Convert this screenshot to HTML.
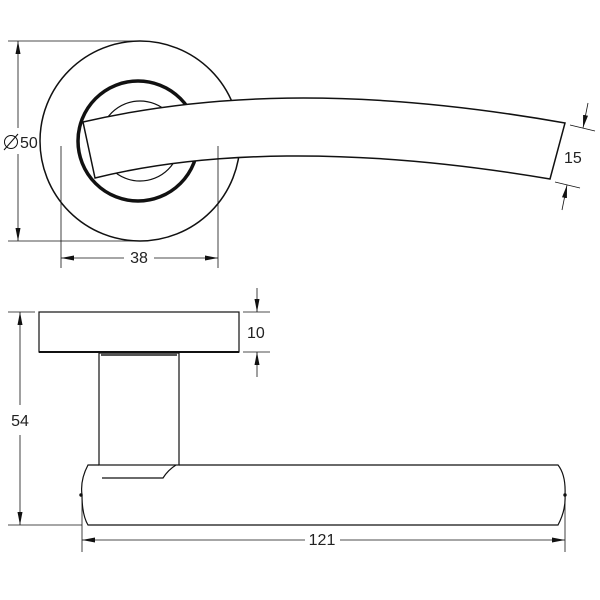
<!DOCTYPE html>
<html><head><style>html,body{margin:0;padding:0;background:#fff}svg{display:block}text{font-family:"Liberation Sans","DejaVu Sans",sans-serif;font-size:16px;fill:#222}</style></head>
<body>
<svg width="600" height="600" viewBox="0 0 600 600" xmlns="http://www.w3.org/2000/svg">
<defs><marker id="a" viewBox="0 0 13 6" refX="13" refY="3" markerWidth="13" markerHeight="6" orient="auto-start-reverse" markerUnits="userSpaceOnUse"><path d="M0,0.5 L13,3 L0,5.5z" fill="#111"/></marker></defs>
<g fill="none" stroke="#111" stroke-width="1">
<circle cx="140" cy="141" r="100" stroke-width="1.5"/>
<circle cx="138" cy="141" r="60" stroke-width="3.5"/>
<circle cx="140" cy="141" r="40" stroke-width="1.2"/>
<path d="M83,122 C200,95 350,85 565,123 L550,179 C350,145 200,152 95,178 Z" fill="#fff" stroke-width="1.5"/>
<line x1="8" y1="41" x2="140" y2="41" stroke-width="0.8"/>
<line x1="8" y1="241" x2="140" y2="241" stroke-width="0.8"/>
<line x1="18" y1="128" x2="18" y2="41" marker-end="url(#a)" stroke-width="0.8"/>
<line x1="18" y1="154" x2="18" y2="241" marker-end="url(#a)" stroke-width="0.8"/>
<line x1="61" y1="146" x2="61" y2="268" stroke-width="0.8"/>
<line x1="218" y1="146" x2="218" y2="268" stroke-width="0.8"/>
<line x1="124" y1="258" x2="61" y2="258" marker-end="url(#a)" stroke-width="0.8"/>
<line x1="154" y1="258" x2="218" y2="258" marker-end="url(#a)" stroke-width="0.8"/>
<line x1="570" y1="125" x2="595" y2="131" stroke-width="0.8"/>
<line x1="555" y1="182" x2="580" y2="188" stroke-width="0.8"/>
<line x1="588" y1="103" x2="583" y2="128" marker-end="url(#a)" stroke-width="0.8"/>
<line x1="562" y1="210" x2="567" y2="185" marker-end="url(#a)" stroke-width="0.8"/>
<rect x="39" y="312" width="200" height="40" stroke-width="1.2"/>
<line x1="39" y1="352" x2="239" y2="352" stroke-width="2"/>
<rect x="99" y="353" width="80" height="112" stroke-width="1.2"/>
<rect x="101" y="353" width="76" height="3" fill="#555" stroke="none"/>
<path d="M99,465 L88,465 Q80,480 82,495 Q82,515 88,525 L558,525 Q566,510 565,495 Q566,475 558,465 L179,465" stroke-width="1.2"/>
<path d="M102,478 L163,478 Q168,470 176,465" stroke-width="1.2"/>
<circle cx="81" cy="495" r="1.2" fill="#111"/>
<circle cx="565" cy="495" r="1.2" fill="#111"/>
<line x1="8" y1="312" x2="35" y2="312" stroke-width="0.8"/>
<line x1="8" y1="525" x2="82" y2="525" stroke-width="0.8"/>
<line x1="20" y1="405" x2="20" y2="312" marker-end="url(#a)" stroke-width="0.8"/>
<line x1="20" y1="435" x2="20" y2="525" marker-end="url(#a)" stroke-width="0.8"/>
<line x1="243" y1="312" x2="270" y2="312" stroke-width="0.8"/>
<line x1="243" y1="352" x2="270" y2="352" stroke-width="0.8"/>
<line x1="257" y1="288" x2="257" y2="312" marker-end="url(#a)" stroke-width="0.8"/>
<line x1="257" y1="377" x2="257" y2="352" marker-end="url(#a)" stroke-width="0.8"/>
<line x1="82" y1="497" x2="82" y2="552" stroke-width="0.8"/>
<line x1="565" y1="497" x2="565" y2="552" stroke-width="0.8"/>
<line x1="305" y1="540" x2="82" y2="540" marker-end="url(#a)" stroke-width="0.8"/>
<line x1="340" y1="540" x2="565" y2="540" marker-end="url(#a)" stroke-width="0.8"/>
<circle cx="11" cy="142" r="6.5" stroke-width="1"/>
<line x1="4" y1="150" x2="18" y2="134" stroke-width="1"/>
</g>
<text x="20" y="148">50</text>
<text x="139" y="263" text-anchor="middle">38</text>
<text x="564" y="163">15</text>
<text x="20" y="426" text-anchor="middle">54</text>
<text x="247" y="338">10</text>
<text x="322" y="545" text-anchor="middle">121</text>
</svg>
</body></html>
